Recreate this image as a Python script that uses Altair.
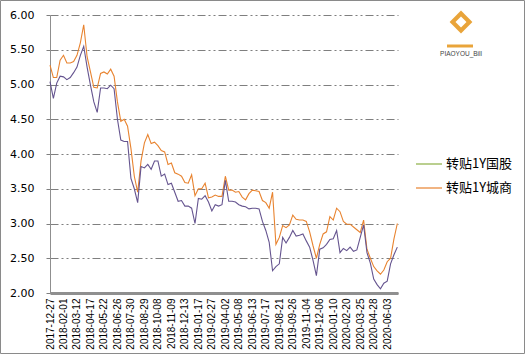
import altair as alt
import pandas as pd

# x-axis category labels (every ~25 trading days)
dates = ["2017-12-27", "2018-02-01", "2018-03-12", "2018-04-17", "2018-05-22",
         "2018-06-26", "2018-07-30", "2018-08-29", "2018-10-08", "2018-11-09",
         "2018-12-13", "2019-01-17", "2019-02-27", "2019-04-02", "2019-05-08",
         "2019-06-13", "2019-07-17", "2019-08-21", "2019-09-26", "2019-11-04",
         "2019-12-06", "2020-01-10", "2020-02-20", "2020-03-25", "2020-04-28",
         "2020-06-03"]

# 转贴1Y城商 (orange)
cs = [5.28, 5.10, 5.10, 5.35, 5.42, 5.31, 5.31, 5.33, 5.42, 5.60,
      5.86, 5.40, 5.18, 4.96, 4.95, 5.16, 5.18, 5.15, 5.22, 5.12,
      4.75, 4.47, 4.50, 4.40, 4.08, 3.68, 3.45, 3.90, 4.16, 4.28,
      4.15, 4.17, 4.12, 4.05, 4.03, 3.85, 3.87, 3.73, 3.71, 3.68,
      3.59, 3.58, 3.70, 3.40, 3.50, 3.50, 3.58, 3.37, 3.38, 3.41,
      3.39, 3.39, 3.68, 3.48, 3.48, 3.45, 3.46, 3.38, 3.34, 3.43,
      3.48, 3.47, 3.46, 3.33, 3.30, 3.22, 3.45, 2.70, 2.80, 2.97,
      2.94, 2.98, 3.12, 3.06, 3.05, 3.05, 3.03, 2.88, 2.68, 2.50,
      2.70, 2.85, 2.88, 3.10, 3.05, 3.22, 3.17, 3.03, 2.99, 2.99,
      2.95, 2.91, 2.87, 3.05, 2.63, 2.50, 2.38, 2.32, 2.27, 2.33,
      2.45, 2.50, 2.78, 3.00]

# 转贴1Y国股 (purple)
gg = [5.04, 4.80, 5.02, 5.12, 5.11, 5.07, 5.10, 5.17, 5.25, 5.42,
      5.55, 5.25, 4.99, 4.75, 4.60, 4.95, 4.95, 4.94, 4.99, 4.94,
      4.50, 4.20, 4.18, 4.18, 3.65, 3.50, 3.30, 3.82, 3.80, 3.85,
      3.78, 3.90, 3.90, 3.68, 3.71, 3.56, 3.58, 3.45, 3.32, 3.33,
      3.25, 3.25, 3.22, 3.00, 3.36, 3.35, 3.40, 3.31, 3.18, 3.27,
      3.25, 3.27, 3.62, 3.32, 3.32, 3.31, 3.27, 3.25, 3.24, 3.21,
      3.22, 3.22, 3.21, 3.03, 2.90, 2.73, 2.32, 2.38, 2.42, 2.80,
      2.72, 2.80, 2.90, 2.82, 2.83, 2.85, 2.75, 2.66, 2.47, 2.25,
      2.63, 2.65, 2.70, 2.77, 2.78, 2.90, 2.58, 2.64, 2.61, 2.66,
      2.60, 2.62, 2.80, 2.98, 2.58, 2.43, 2.20, 2.12, 2.06, 2.14,
      2.17, 2.42, 2.55, 2.66]

series_names = ["转贴1Y国股", "转贴1Y城商"]
legend_colors = ["#8DB045", "#E8832F"]
step = 0.25  # 4 samples per label interval

df = pd.DataFrame({
    "pos": [i * step for i in range(len(gg))],
    "gg": gg,
    "cs": cs,
})

FONT = "DejaVu Sans"
GRID = "#7f7f7f"

labels_js = "[" + ",".join("'" + d + "'" for d in dates) + "]"

x_axis = alt.Axis(
    values=list(range(len(dates))),
    labelExpr=labels_js + "[round(datum.value)]",
    labelAngle=270,
    labelFont="Liberation Sans",
    labelFontSize=10,
    labelColor="#000000",
    labelPadding=5,
    ticks=False,
    grid=False,
    domainColor="#8f8f8f",
    domainWidth=3,
    title=None,
    labelOverlap=False,
    labelBound=False,
    labelFlush=False,
)
x_scale = alt.Scale(domain=[0, 25.8], nice=False, zero=False)

y_scale = alt.Scale(domain=[2, 6], nice=False, zero=False)
y_axis = alt.Axis(
    values=[2, 2.5, 3, 3.5, 4, 4.5, 5, 5.5, 6],
    format=".2f",
    labelFont=FONT,
    labelFontSize=11,
    labelColor="#000000",
    labelPadding=12,
    tickSize=4,
    tickColor=GRID,
    domainColor="#8f8f8f",
    domainWidth=1,
    grid=True,
    gridColor=GRID,
    gridDash=[8, 3, 2, 3, 2, 3],
    gridWidth=1.2,
    title=None,
)

base = alt.Chart(df)

line_cs = base.mark_line(color="#E8832F", strokeWidth=1.1).encode(
    x=alt.X("pos:Q", scale=x_scale, axis=x_axis),
    y=alt.Y("cs:Q", scale=y_scale, axis=y_axis),
)
line_gg = base.mark_line(color="#65548F", strokeWidth=1.1).encode(
    x=alt.X("pos:Q", scale=x_scale, axis=x_axis),
    y=alt.Y("gg:Q", scale=y_scale, axis=y_axis),
)

# manual legend (as in the original: 国股 shown with a green key)
helper = pd.DataFrame({"k": [0]})
legend_layers = []
for i, (name, col) in enumerate(zip(series_names, legend_colors)):
    yy = 149 + 24 * i
    legend_layers.append(
        alt.Chart(helper).mark_rule(color=col, strokeWidth=1.2).encode(
            x=alt.value(366), x2=alt.value(392), y=alt.value(yy)
        )
    )
    legend_layers.append(
        alt.Chart(helper).mark_text(
            align="left", baseline="middle", font="Noto Sans CJK SC", fontSize=13,
            color="#000000", text=name
        ).encode(x=alt.value(396), y=alt.value(yy))
    )

# logo approximation in the top-right corner
logo = pd.DataFrame({"t": ["PIAOYOU_Bill"]})
logo_shape = alt.Chart(logo).mark_point(
    shape="diamond", filled=True, color="#E9A43A", size=520, opacity=1
).encode(x=alt.value(411), y=alt.value(7))
logo_hole = alt.Chart(logo).mark_point(
    shape="square", filled=True, color="#ffffff", size=60, opacity=1, angle=45
).encode(x=alt.value(411), y=alt.value(7))
logo_sub = alt.Chart(logo).mark_rule(color="#E9A43A", strokeWidth=3).encode(
    x=alt.value(397), x2=alt.value(423), y=alt.value(31)
)
logo_text = alt.Chart(logo).mark_text(
    font="Liberation Sans", fontSize=6.5, color="#444444", align="center", baseline="middle"
).encode(x=alt.value(411), y=alt.value(39), text="t:N")

frame = alt.Chart(helper).mark_rect(fill=None, stroke="#8a8a8a", strokeWidth=1).encode(
    x=alt.value(-49.5), x2=alt.value(474.5), y=alt.value(-14.5), y2=alt.value(338.5)
)

chart = alt.layer(
    line_cs, line_gg, *legend_layers, logo_shape, logo_hole, logo_sub, logo_text, frame
).properties(
    width=348,
    height=278,
    autosize=alt.AutoSizeParams(type="none"),
    padding={"left": 50, "top": 15, "right": 127, "bottom": 61},
    background="#ffffff",
).configure_view(stroke=None)

chart.save("out.html", embed_options={"renderer": "svg", "actions": False})
